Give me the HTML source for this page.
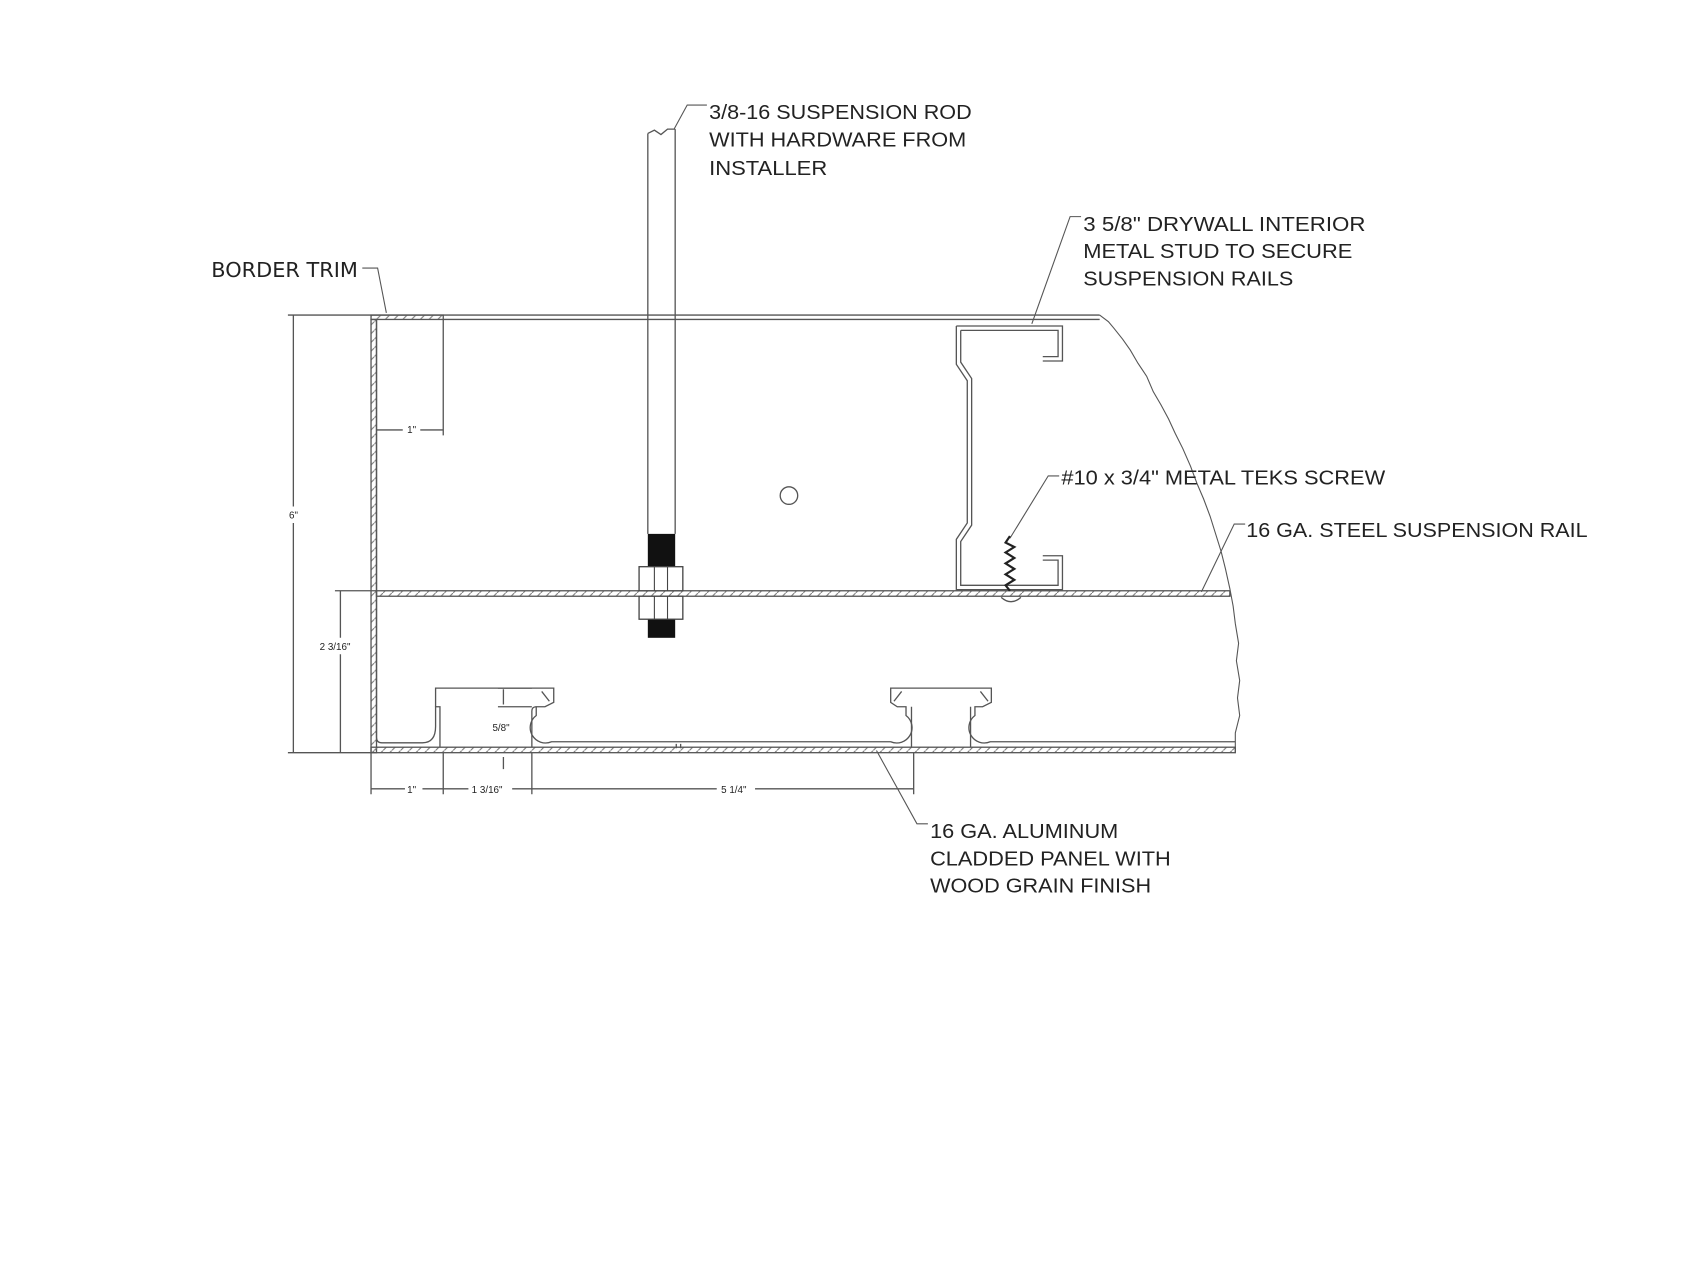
<!DOCTYPE html>
<html><head><meta charset="utf-8"><style>
html,body{margin:0;padding:0;background:#fff;width:1707px;height:1280px;overflow:hidden}
svg{display:block}
text{font-family:"Liberation Sans",Arial,sans-serif;fill:#222}
</style></head><body>
<svg width="1707" height="1280" viewBox="0 0 1560 1170" xmlns="http://www.w3.org/2000/svg">
<defs>
<pattern id="h" width="8" height="8" patternUnits="userSpaceOnUse"><path d="M0,8 L8,0" stroke="#777" stroke-width="1"/></pattern>
</defs>
<g transform="translate(-2,-2)">
<g fill="none" stroke="#555" stroke-width="1.2">
<path d="M341,290 H1007 M407,294 H1007" />
<rect x="341" y="290" width="66" height="4" fill="url(#h)"/>
<path d="M1007,290 L1015,296 L1020,302 L1028,312 L1035,322 L1042,334 L1050,346 L1056,360 L1063,372 L1070,385 L1076,398 L1083,412 L1090,428 L1096,444 L1102,458 L1108,474 L1113,490 L1118,506 L1122,522 L1126,540 L1129,556 L1131,572 L1134,590 L1132,606 L1135,624 L1133,640 L1135,656 L1131,672 L1131,690" stroke-width="1"/>
<rect x="341" y="294" width="5" height="396" fill="url(#h)"/>
<path d="M346,294 V676 Q346,681 351,681 H388 Q400,681 400,666 V648 H404 V685" />
<rect x="346" y="542" width="780" height="5" fill="url(#h)"/>
<rect x="341" y="685" width="790" height="5" fill="url(#h)"/>
<path d="M400,648 V631 H508 V644 L500,648 H492 V656 A14,14 0 0 0 506,680 H816 A14,14 0 0 0 830,656 V648 H822 L816,644 V631 H908 V644 L900,648 H893 V656 A14,14 0 0 0 907,680 H1131"/>
<path d="M488,685 V652 Q488,648 492,648 M835,648 V685 M889,648 V685 M497,634 L504,643 M819,643 L826,634 M898,634 L905,643"/>
<path d="M620,682 v4 M624,682 v4"/>
<path d="M265,290 H341 M265,690 H341 M270,290 V465 M270,480 V690 M308,542 H346 M313,542 V585 M313,600 V690"/>
<path d="M407,294 V400 M346,395 H370 M386,395 H407"/>
<path d="M341,690 V728 M407,690 V728 M488,690 V728 M837,690 V728 M341,723 H372 M388,723 H407 M407,723 H430 M470,723 H488 M488,723 H657 M692,723 H837"/>
<path d="M457,648 H488 M462,632 V646 M462,694 V705 M457,631 H488"/>
<path d="M876,300 H973 V332 H955 M880,304 H969 V328 H955 M876,300 V335 L886,350 V480 L876,495 V541 H973 V510 H955 M880,304 V333 L890,348 V482 L880,497 V537 H969 V514 H955"/>
<path d="M594,124 V490 M619,120 V490 M594,124 L600,121 L606,125 L612,120 L619,120"/>
<circle cx="723" cy="455" r="8"/>
<path d="M618,120 L630,98 H648 M945,298 L980,200 H990 M925,494 L960,437 H970 M1100,543 L1130,481 H1140 M355,288 L347,247 H333 M803,688 L840,755 H850" stroke-width="1"/>
</g>
<rect x="594" y="490" width="25" height="32" fill="#111"/>
<rect x="594" y="566" width="25" height="19" fill="#111"/>
<rect x="586" y="520" width="40" height="22" fill="#fff" stroke="#444" stroke-width="1.2"/>
<rect x="586" y="547" width="40" height="21" fill="#fff" stroke="#444" stroke-width="1.2"/>
<path d="M600,520 V542 M612,520 V542 M600,547 V568 M612,547 V568" stroke="#444" stroke-width="1"/>
<path d="M925,492 L921,498 L929,502 L921,507 L929,512 L921,517 L929,522 L921,527 L929,532 L921,537 L925,542" fill="none" stroke="#222" stroke-width="2"/>
<path d="M917,548 Q926,556 935,548" fill="none" stroke="#555" stroke-width="1.2"/>
<g font-size="9" fill="#444">
<text x="266" y="476">6"</text>
<text x="294" y="596">2 3/16"</text>
<text x="374" y="398">1"</text>
<text x="374" y="727">1"</text>
<text x="433" y="727">1 3/16"</text>
<text x="661" y="727">5 1/4"</text>
<text x="452" y="670">5/8"</text>
</g>
<g font-size="18.5">
<text x="650" y="111" textLength="240" lengthAdjust="spacingAndGlyphs">3/8-16 SUSPENSION ROD</text>
<text x="650" y="136" textLength="235" lengthAdjust="spacingAndGlyphs">WITH HARDWARE FROM</text>
<text x="650" y="162" textLength="108" lengthAdjust="spacingAndGlyphs">INSTALLER</text>
<text x="992" y="213" textLength="258" lengthAdjust="spacingAndGlyphs">3 5/8"  DRYWALL INTERIOR</text>
<text x="992" y="238" textLength="246" lengthAdjust="spacingAndGlyphs">METAL STUD TO SECURE</text>
<text x="992" y="263" textLength="192" lengthAdjust="spacingAndGlyphs">SUSPENSION RAILS</text>
<text x="972" y="445" textLength="296" lengthAdjust="spacingAndGlyphs">#10 x 3/4" METAL TEKS SCREW</text>
<text x="1141" y="493" textLength="312" lengthAdjust="spacingAndGlyphs">16 GA. STEEL SUSPENSION RAIL</text>
<text x="852" y="768" textLength="172" lengthAdjust="spacingAndGlyphs">16 GA. ALUMINUM</text>
<text x="852" y="793" textLength="220" lengthAdjust="spacingAndGlyphs">CLADDED PANEL WITH</text>
<text x="852" y="818" textLength="202" lengthAdjust="spacingAndGlyphs">WOOD GRAIN FINISH</text>
<text x="195" y="255" textLength="134" lengthAdjust="spacingAndGlyphs" style="font-family:'DejaVu Sans',sans-serif">BORDER TRIM</text>
</g>
</g>
</svg>
</body></html>
